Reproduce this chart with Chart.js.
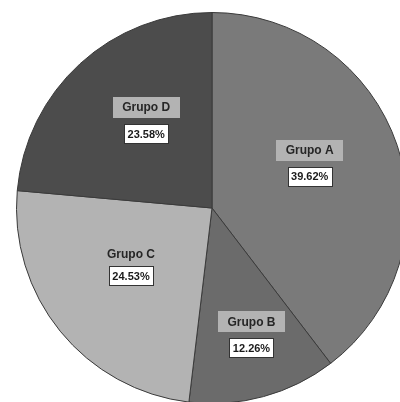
<!DOCTYPE html>
<html>
<head>
<meta charset="utf-8">
<script src="https://cdn.jsdelivr.net/npm/chart.js@4/dist/chart.umd.min.js"></script>
<style>
  html, body { margin: 0; padding: 0; background: #ffffff; width: 400px; height: 402px; overflow: hidden; position: relative; }
  #wrap { position: absolute; left: 16px; top: 12px; width: 392px; height: 392px; }
</style>
</head>
<body>
<div id="wrap"><canvas id="c"></canvas></div>
<script>
const categories = ['Grupo A', 'Grupo B', 'Grupo C', 'Grupo D'];
const values = [39.62, 12.26, 24.53, 23.58];
const percentLabels = ['39.62%', '12.26%', '24.53%', '23.58%'];
const sliceColors = ['#7a7a7a', '#6b6b6b', '#b3b3b3', '#4c4c4c'];

const labelPlugin = {
  id: 'sliceLabels',
  afterDatasetsDraw(chart, args, opts) {
    const ctx = chart.ctx;
    const meta = chart.getDatasetMeta(0);
    ctx.save();
    ctx.textAlign = 'center';
    ctx.textBaseline = 'middle';
    meta.data.forEach((arc, i) => {
      const p = arc.getProps(['x', 'y', 'startAngle', 'endAngle', 'outerRadius'], true);
      const mid = (p.startAngle + p.endAngle) / 2 + (opts.angleShift[i] || 0) * Math.PI / 180;
      const r = p.outerRadius * opts.radiusFrac[i];
      const cx = p.x + Math.cos(mid) * r;
      const cy = p.y + Math.sin(mid) * r;
      // name box
      ctx.font = 'bold 12px "Liberation Sans", Arial, sans-serif';
      const name = chart.data.labels[i];
      const nw = ctx.measureText(name).width + 19;
      const nh = 21;
      const ny = cy - 13 + (opts.nameShift[i] || 0);
      ctx.fillStyle = '#b3b3b3';
      ctx.fillRect(Math.round(cx - nw / 2), Math.round(ny - nh / 2), Math.round(nw), nh);
      ctx.fillStyle = '#262626';
      ctx.fillText(name, cx, ny + 0.5);
      // percent box
      ctx.font = 'bold 11px "Liberation Sans", Arial, sans-serif';
      const pct = percentLabels[i];
      const pw = ctx.measureText(pct).width + 7;
      const ph = 19;
      const py = cy + 13;
      ctx.fillStyle = '#ffffff';
      ctx.fillRect(Math.round(cx - pw / 2) + 0.5, Math.round(py - ph / 2) + 0.5, Math.round(pw), ph);
      ctx.strokeStyle = '#333333';
      ctx.lineWidth = 1;
      ctx.strokeRect(Math.round(cx - pw / 2) + 0.5, Math.round(py - ph / 2) + 0.5, Math.round(pw), ph);
      ctx.fillStyle = '#1a1a1a';
      ctx.fillText(pct, cx, py + 1);
    });
    ctx.restore();
  }
};

new Chart(document.getElementById('c'), {
  type: 'pie',
  data: {
    labels: categories,
    datasets: [{
      data: values,
      backgroundColor: sliceColors,
      borderColor: '#3a3a3a',
      borderWidth: 1,
      hoverOffset: 0
    }]
  },
  options: {
    responsive: true,
    maintainAspectRatio: false,
    animation: false,
    layout: { padding: 0 },
    events: [],
    plugins: {
      legend: { display: false },
      tooltip: { enabled: false },
      title: { display: false },
      sliceLabels: {
        radiusFrac: [0.55, 0.68, 0.5, 0.56],
        angleShift: [-6, -2, 5, 5.5],
        nameShift: [0, 0, 4, 0]
      }
    }
  },
  plugins: [labelPlugin]
});
</script>
</body>
</html>
